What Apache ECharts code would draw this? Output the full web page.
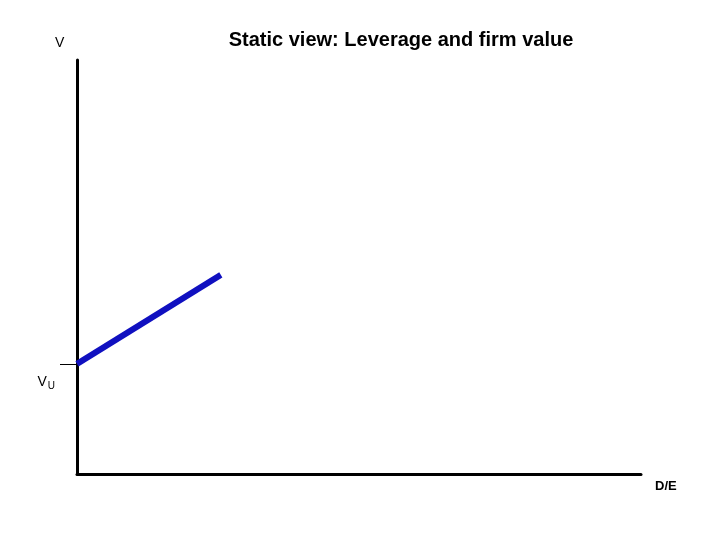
<!DOCTYPE html>
<html>
<head>
<meta charset="utf-8">
<script src="https://cdn.jsdelivr.net/npm/echarts@6/dist/echarts.min.js"></script>
<style>
  html, body { margin: 0; padding: 0; background: #fff; }
  #chart { width: 720px; height: 540px; }
</style>
</head>
<body>
<div id="chart"></div>
<script>
// leverage (D/E) vs firm value, static view
const leverage = [0, 2.55];
const firmValue = [2.66, 4.81];
const vuLevel = 2.66;

const chart = echarts.init(document.getElementById('chart'));

const option = {
    animation: false,
    title: {
        text: 'Static view: Leverage and firm value',
        left: 396,
        top: 25,
        textAlign: 'center',
        textStyle: {
            fontFamily: 'Liberation Sans',
            fontSize: 20,
            fontWeight: 'bold',
            color: '#000'
        }
    },
    grid: { left: 77, right: 79, top: 60, bottom: 66 },
    xAxis: {
        type: 'value',
        min: 0,
        max: 10,
        axisLine: { show: true, onZero: false, lineStyle: { color: '#000', width: 3 } },
        axisTick: { show: false },
        axisLabel: { show: false },
        splitLine: { show: false }
    },
    yAxis: {
        type: 'value',
        min: 0,
        max: 10,
        axisLine: { show: true, onZero: false, lineStyle: { color: '#000', width: 3 } },
        axisTick: {
            show: true,
            customValues: [vuLevel],
            length: 17,
            lineStyle: { color: '#000', width: 1 }
        },
        axisLabel: {
            show: true,
            customValues: [vuLevel],
            margin: 22,
            verticalAlign: 'top',
            padding: [9, 0, 0, 0],
            formatter: () => '{v|V}{u|U}',
            rich: {
                v: { fontFamily: 'Liberation Sans', fontSize: 14, color: '#000' },
                u: { fontFamily: 'Liberation Sans', fontSize: 10, color: '#000', padding: [8, 0, 0, 1] }
            }
        },
        splitLine: { show: false }
    },
    graphic: [
        {
            type: 'text',
            left: 55,
            top: 36,
            style: { text: 'V', fontFamily: 'Liberation Sans', fontSize: 14, fill: '#000' }
        },
        {
            type: 'text',
            left: 655,
            top: 480,
            style: { text: 'D/E', fontFamily: 'Liberation Sans', fontSize: 13, fontWeight: 'bold', fill: '#000' }
        }
    ],
    series: [
        {
            type: 'line',
            data: leverage.map((x, i) => [x, firmValue[i]]),
            symbol: 'none',
            lineStyle: { color: '#1010c0', width: 6 }
        }
    ]
};

chart.setOption(option);
</script>
</body>
</html>
